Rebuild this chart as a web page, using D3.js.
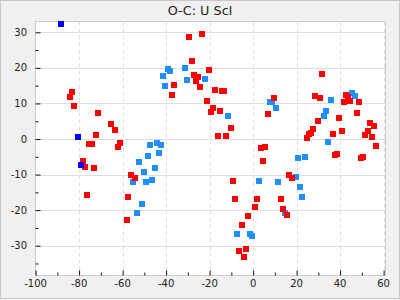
<!DOCTYPE html>
<html>
<head>
<meta charset="utf-8">
<script src="https://cdn.jsdelivr.net/npm/d3@7"></script>
<style>
  body { margin: 0; background: #f0f0f0; }
  svg { display: block; font-family: "DejaVu Sans", sans-serif; }
</style>
</head>
<body>
<div class="chart"></div>
<script>
// Data
//= ================================
var chartTitle = "O-C: U Scl";

// red points
var redX = [-83.1, -84.0, -82.2, -71.2, -65.2, -63.4, -72.1, -75.4, -73.9, -61.1, -62.0, -78.1, -77.1, -73.0,
  -56.0, -54.2, -76.2, -57.4, -58.1,
  -29.3, -23.4, -28.0, -36.2, -37.1, -27.0, -25.2, -26.1, -24.3, -20.1, -17.4, -21.1, -18.4, -19.2,
  -14.2, -13.2, -15.1, -10.0, -16.0, -12.3, 9.7, 7.0, 3.8, 5.6, 4.7, 16.6, 18.0,
  -9.1, -8.2, 1.9, 13.0, 1.0, 13.9, 15.7, -2.2, -5.0, -6.3, -3.1, -4.0,
  31.8, 28.6, 30.9, 39.6, 30.0, 27.7, 26.8, 25.8, 24.9, 36.9, 41.0, 37.8, 38.7,
  42.7, 43.8, 41.9, 44.7, 48.8, 47.9, 53.9, 55.7, 53.0, 51.6, 54.8, 56.6, 49.7, 50.7];
var redY = [13.1, 11.7, 9.2, 7.2, 4.1, 2.4, 1.0, -1.5, -1.5, -1.2, -2.3, -6.3, -7.9, -8.2,
  -10.2, -11.0, -15.8, -16.4, -22.8,
  28.8, 29.6, 21.8, 15.3, 12.3, 17.9, 17.3, 16.2, 14.5, 19.3, 13.7, 10.8, 8.6, 7.5,
  13.4, 13.4, 8.0, 3.0, 0.8, 0.8, 11.4, 6.9, -2.6, -2.3, -6.3, -10.2, -11.0,
  -11.9, -16.9, -16.9, -16.9, -19.1, -19.7, -21.4, -21.7, -24.2, -31.5, -30.9, -33.2,
  18.4, 12.0, 11.4, 5.8, 5.0, 2.7, 1.6, 1.3, 0.2, 1.3, 2.2, -4.6, -4.3,
  12.3, 11.7, 10.3, 10.6, 10.3, 7.2, 4.4, 3.6, 2.2, 1.0, 0.5, -2.0, -5.4, -5.1];

// light blue points
var blueX = [-39.0, -38.1, -31.2, -41.3, -30.3, -40.4, -22.0, -11.4,
  -47.3, -44.0, -42.2, -43.1, -48.2, -52.3, -45.0, -50.0, -55.1, -49.1, -46.3, -50.9, -53.2,
  7.6, 8.5, 10.7, 2.9, 11.6, 19.9, 20.8, 24.0, 21.7, 22.6, 14.8, -7.3, -1.3, -0.4,
  36.0, 33.7, 32.7, 34.6, 45.6, 47.0];
var blueY = [19.8, 19.0, 20.1, 17.6, 16.5, 14.8, 17.0, 6.6,
  -1.8, -1.2, -1.8, -4.0, -4.9, -6.5, -8.2, -9.3, -12.1, -12.1, -11.6, -18.3, -20.8,
  10.3, 10.3, 8.6, -11.9, -12.1, -10.7, -5.4, -5.1, -13.5, -16.4, -20.7, -26.7, -26.7, -27.3,
  11.1, 7.8, 6.6, -0.9, 12.8, 12.0];

// dark blue points
var navyX = [-88.2, -80.4, -79.0];
var navyY = [32.2, 0.5, -7.4];

var xTicks = [-100, -80, -60, -40, -20, 0, 20, 40, 60];
var yTicks = [30, 20, 10, 0, -10, -20, -30];

// Step 1: Set up chart
//= ================================
var svgWidth = 400;
var svgHeight = 300;
var plot = { left: 35.5, right: 385.5, top: 21.5, bottom: 275.5 };

var svg = d3.select(".chart")
  .append("svg")
  .attr("width", svgWidth)
  .attr("height", svgHeight);

svg.append("rect")
  .attr("x", 0.5).attr("y", 0.5)
  .attr("width", 399).attr("height", 298)
  .attr("fill", "#f0f0f0")
  .attr("stroke", "#c8c8c8");

svg.append("text")
  .attr("x", 200).attr("y", 15)
  .attr("text-anchor", "middle")
  .attr("font-size", "12.8px")
  .attr("fill", "#222")
  .text(chartTitle);

svg.append("rect")
  .attr("x", plot.left).attr("y", plot.top)
  .attr("width", plot.right - plot.left).attr("height", plot.bottom - plot.top)
  .attr("fill", "white");

// Step 2: scales
//= ================================
var xScale = d3.scaleLinear().domain([-100, 60]).range([35.6, 383.6]);
var yScale = d3.scaleLinear().domain([0, 30]).range([139, 32.3]);

// Step 3: grid
//= ================================
svg.append("g").selectAll("line")
  .data(yTicks)
  .enter()
  .append("line")
  .attr("x1", plot.left).attr("x2", plot.right)
  .attr("y1", d => Math.round(yScale(d)) + 0.5)
  .attr("y2", d => Math.round(yScale(d)) + 0.5)
  .attr("stroke", "#dedede");

svg.append("g").selectAll("line")
  .data(xTicks.slice(1))
  .enter()
  .append("line")
  .attr("x1", d => Math.round(xScale(d)) + 0.5)
  .attr("x2", d => Math.round(xScale(d)) + 0.5)
  .attr("y1", plot.top).attr("y2", plot.bottom)
  .attr("stroke", "#dedede")
  .attr("stroke-dasharray", "4,3");

svg.append("rect")
  .attr("x", plot.left).attr("y", plot.top)
  .attr("width", plot.right - plot.left).attr("height", plot.bottom - plot.top)
  .attr("fill", "none")
  .attr("stroke", "#cccccc");

// Step 4: axes (ticks point inward)
//= ================================
var xAxis = d3.axisTop(xScale)
  .tickValues(d3.range(-100, 61, 10))
  .tickSize(0)
  .tickFormat("");
var xAxisG = svg.append("g")
  .attr("transform", `translate(0, ${plot.bottom})`)
  .call(xAxis);
xAxisG.select(".domain").remove();
xAxisG.selectAll(".tick line")
  .attr("y2", d => d % 20 === 0 ? -5 : -3)
  .attr("stroke", "#111");

var yAxis = d3.axisRight(yScale)
  .tickValues(d3.range(-35, 31, 5))
  .tickSize(0)
  .tickFormat("");
var yAxisG = svg.append("g")
  .attr("transform", `translate(${plot.left}, 0)`)
  .call(yAxis);
yAxisG.select(".domain").remove();
yAxisG.selectAll(".tick line")
  .attr("x2", d => d % 10 === 0 ? 5 : 3)
  .attr("stroke", "#111");

// tick labels
svg.append("g").selectAll("text")
  .data(xTicks)
  .enter()
  .append("text")
  .attr("x", d => xScale(d))
  .attr("y", 287)
  .attr("text-anchor", "middle")
  .attr("font-size", "10px")
  .attr("fill", "#222")
  .text(d => d);

svg.append("g").selectAll("text")
  .data(yTicks)
  .enter()
  .append("text")
  .attr("x", 27)
  .attr("y", d => yScale(d) + 3.6)
  .attr("text-anchor", "end")
  .attr("font-size", "10px")
  .attr("fill", "#222")
  .text(d => d);

// Step 5: points (snapped to whole pixels so the squares stay crisp)
//= ================================
var size = 6;
function drawSquares(xs, ys, color) {
  svg.append("g").selectAll("rect")
    .data(xs.map((x, i) => [x, ys[i]]))
    .enter()
    .append("rect")
    .attr("x", d => Math.round(xScale(d[0]) - size / 2))
    .attr("y", d => Math.round(yScale(d[1]) - size / 2))
    .attr("width", size)
    .attr("height", size)
    .attr("fill", color);
}
drawSquares(blueX, blueY, "#1e8fff");
drawSquares(redX, redY, "#ff0000");
drawSquares(navyX, navyY, "#0000ff");
</script>
</body>
</html>
